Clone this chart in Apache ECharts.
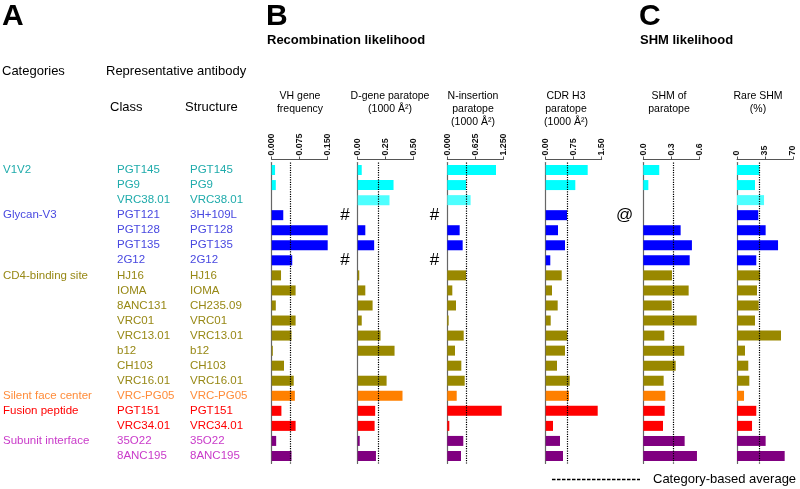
<!DOCTYPE html>
<html>
<head>
<meta charset="utf-8">
<script src="https://cdn.jsdelivr.net/npm/echarts@6/dist/echarts.min.js"></script>
<style>
html,body{margin:0;padding:0;background:#fff;}
#chart{width:800px;height:489px;}
</style>
</head>
<body>
<div id="chart"></div>
<script>
// ---------- DATA ----------
const groupNames = ['V1V2','Glycan-V3','CD4-binding site','Silent face center','Fusion peptide','Subunit interface'];
const groupSizes = [3,4,8,1,2,2];
const classAb = ['PGT145','PG9','VRC38.01','PGT121','PGT128','PGT135','2G12','HJ16','IOMA','8ANC131','VRC01','VRC13.01','b12','CH103','VRC16.01','VRC-PG05','PGT151','VRC34.01','35O22','8ANC195'];
const structAb = ['PGT145','PG9','VRC38.01','3H+109L','PGT128','PGT135','2G12','HJ16','IOMA','CH235.09','VRC01','VRC13.01','b12','CH103','VRC16.01','VRC-PG05','PGT151','VRC34.01','35O22','8ANC195'];

const vhFreq  = [0.009,0.011,null,0.031,0.150,0.150,0.055,0.025,0.064,0.011,0.064,0.053,0.003,0.033,0.059,0.062,0.026,0.064,0.012,0.053];
const dGene   = [0.036,0.320,0.284,null,0.068,0.147,null,0.014,0.068,0.133,0.036,0.204,0.329,null,0.258,0.400,0.156,0.151,0.018,0.163];
const nIns    = [1.087,0.417,0.520,null,0.276,0.343,null,0.417,0.112,0.194,0.030,0.366,0.172,0.313,0.388,0.210,1.214,0.045,0.357,0.306];
const cdrH3   = [1.125,0.793,null,0.571,0.330,0.517,0.123,0.429,0.169,0.321,0.134,0.579,0.517,0.303,0.643,0.625,1.393,0.196,0.383,0.464];
const shmPara = [0.171,0.054,null,null,0.400,0.521,0.497,0.307,0.486,0.304,0.572,0.225,0.439,0.347,0.218,0.236,0.229,0.211,0.443,0.575];
const rareShm = [27.9,22.5,33.8,26.6,35.8,51.3,24.1,28.8,25.0,27.1,22.5,55.0,10.0,14.1,15.4,8.8,24.1,18.8,35.8,59.6];

const dGeneNotes = ['','','','#','','','#','','','','','','','','','','','','',''];
const nInsNotes  = ['','','','#','','','#','','','','','','','','','','','','',''];
const shmNotes   = ['','','','@','','','','','','','','','','','','','','','',''];

const averages = [0.05, 0.183, 0.417, 0.589, 0.32, 28];
const axisMax  = [0.15, 0.5, 1.25, 1.5, 0.6, 70];
const tickLabels = [
  ['0.000','0.075','0.150'],
  ['0.00','0.25','0.50'],
  ['0.000','0.625','1.250'],
  ['0.00','0.75','1.50'],
  ['0.0','0.3','0.6'],
  ['0','35','70']
];
const panelTitles = ['VH gene\nfrequency','D-gene paratope\n(1000 Å²)','N-insertion\nparatope\n(1000 Å²)','CDR H3\nparatope\n(1000 Å²)','SHM of\nparatope','Rare SHM\n(%)'];

// ---------- STYLE ----------
const FONT = '"Liberation Sans", Arial, sans-serif';
const groupTextColors = ['#1fabab','#4848e0','#978815','#ff8c3a','#ff0000','#c93ac9'];
const groupBarColors  = ['#00ffff','#0000ff','#998800','#ff8000','#ff0000','#800080'];
const barOverride = {2:'#4dffff'};

const rowGroup = [];
const catLabels = [];
groupSizes.forEach((n,g)=>{ for(let k=0;k<n;k++){ rowGroup.push(g); catLabels.push(k===0?groupNames[g]:''); } });
const rowIds = classAb.map((c,i)=>String(i));
const barColor = i => barOverride[i] || groupBarColors[rowGroup[i]];

const panels = [
  {vals: vhFreq, notes: null, left: 271.7},
  {vals: dGene,  notes: dGeneNotes, left: 357.7},
  {vals: nIns,   notes: nInsNotes, left: 447.3},
  {vals: cdrH3,  notes: null, left: 545.7},
  {vals: shmPara,notes: shmNotes, left: 643.3},
  {vals: rareShm,notes: null, left: 737}
];
const titleCenters = [300, 390, 473, 566, 669, 758];
const GRID_TOP = 162.5, GRID_H = 301, GRID_W = 56;

const grids = [], xAxes = [], yAxes = [], series = [];

panels.forEach((p,pi)=>{
  grids.push({left: p.left, top: GRID_TOP, width: GRID_W, height: GRID_H});
  const mx = axisMax[pi];
  xAxes.push({
    gridIndex: pi, type:'value', position:'top', min:0, max:mx, interval: mx/2, offset: 3,
    splitLine:{show:false},
    axisLine:{show:true, lineStyle:{color:'#555', width:1}},
    axisTick:{show:true, length:3, lineStyle:{color:'#555'}},
    axisLabel:{show:true, rotate:-90, margin:4, fontSize:8.8, fontWeight:'bold', color:'#111', fontFamily:FONT,
      formatter:(v)=>{ const idx = Math.round(v/(mx/2)); return tickLabels[pi][idx] || ''; }}
  });
  yAxes.push({
    gridIndex: pi, type:'category', inverse:true, data: rowIds,
    axisLine:{show:true, lineStyle:{color:'#666', width:1.2}},
    axisTick:{show:false}, axisLabel:{show:false}, splitLine:{show:false}
  });
  series.push({
    type:'bar', xAxisIndex: pi, yAxisIndex: pi, barWidth: 10, barGap:'-100%', silent:true,
    data: p.vals.map((v,i)=> v==null ? '-' : {value:v, itemStyle:{color: barColor(i)}}),
    markLine:{silent:true, symbol:'none', label:{show:false},
      lineStyle:{type:'dotted', color:'#000', width:1.2},
      data:[{xAxis: averages[pi]}]}
  });
  if (p.notes) {
    series.push({
      type:'bar', xAxisIndex: pi, yAxisIndex: pi, barWidth: 10, barGap:'-100%', silent:true,
      data: p.notes.map(n=> n ? {value:0, note:n} : '-'),
      label:{show:true, position:'left', distance: pi===4?10:8, fontSize:17, color:'#000', fontFamily:FONT,
        formatter:(pr)=> p.notes[pr.dataIndex]}
    });
  }
});

// text columns
const textCols = [
  {labels: catLabels, left: 1},
  {labels: classAb, left: 115},
  {labels: structAb, left: 188}
];
textCols.forEach((tc,ti)=>{
  const gi = grids.length;
  grids.push({left: tc.left, top: GRID_TOP, width: 1, height: GRID_H});
  xAxes.push({gridIndex: gi, type:'value', show:false});
  yAxes.push({
    gridIndex: gi, type:'category', inverse:true, position:'right', data: tc.labels.map((l,i)=>({value: l || (' '.repeat(i+1))})),
    axisLine:{show:false}, axisTick:{show:false}, splitLine:{show:false},
    axisLabel:{show:true, margin:1, align:'left', fontSize:11.5, fontFamily:FONT, interval:0,
      color:(v,i)=> groupTextColors[rowGroup[i]],
      formatter:(v)=> v.trim()}
  });
});

const graphic = [
  {type:'text', left:2, top:2, style:{text:'A', font:'bold 30px '+FONT, fill:'#000'}},
  {type:'text', left:266, top:2, style:{text:'B', font:'bold 30px '+FONT, fill:'#000'}},
  {type:'text', left:639, top:2, style:{text:'C', font:'bold 30px '+FONT, fill:'#000'}},
  {type:'text', left:267, top:34, style:{text:'Recombination likelihood', font:'bold 13px '+FONT, fill:'#000'}},
  {type:'text', left:640, top:34, style:{text:'SHM likelihood', font:'bold 13px '+FONT, fill:'#000'}},
  {type:'text', left:2, top:65, style:{text:'Categories', font:'13px '+FONT, fill:'#000'}},
  {type:'text', left:106, top:65, style:{text:'Representative antibody', font:'13px '+FONT, fill:'#000'}},
  {type:'text', left:110, top:101, style:{text:'Class', font:'13px '+FONT, fill:'#000'}},
  {type:'text', left:185, top:101, style:{text:'Structure', font:'13px '+FONT, fill:'#000'}},
  {type:'line', shape:{x1:552, y1:479.5, x2:640, y2:479.5}, style:{stroke:'#000', lineWidth:1.5, lineDash:[3.5,1.5]}},
  {type:'text', left:653, top:472.5, style:{text:'Category-based average', font:'13px '+FONT, fill:'#000'}}
];
panelTitles.forEach((t,i)=>{
  graphic.push({type:'text', x: titleCenters[i], y: 90,
    style:{text:t, font:'10.5px '+FONT, fill:'#000', textAlign:'center', textVerticalAlign:'top', lineHeight:13}});
});

const chart = echarts.init(document.getElementById('chart'), null, {renderer:'canvas'});
chart.setOption({
  backgroundColor:'#fff',
  animation:false,
  grid: grids, xAxis: xAxes, yAxis: yAxes, series: series, graphic: graphic
});
</script>
</body>
</html>
